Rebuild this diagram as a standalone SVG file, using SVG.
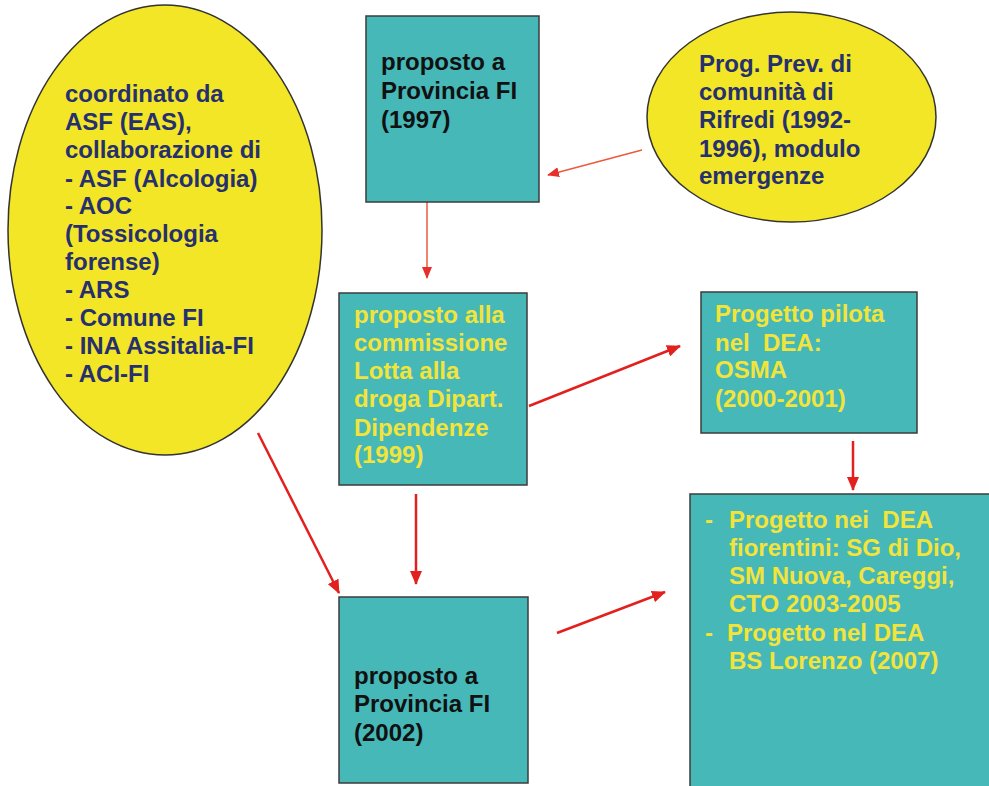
<svg xmlns="http://www.w3.org/2000/svg" width="989" height="786" viewBox="0 0 989 786">
<style>
.box{fill:#46b8b8;stroke:#3c3c3c;stroke-width:1.5}
.ell{fill:#f2e626;stroke:#333;stroke-width:1.5}
.t{font-family:"Liberation Sans",Arial,sans-serif;font-weight:bold;font-size:24px}
.dk{fill:#111}
.nv{fill:#27306f}
.yl{fill:#f2e43a}
.thin{stroke:#ec5a3c;stroke-width:1.5;fill:none}
.thick{stroke:#e2201e;stroke-width:2.5;fill:none}
</style>
<defs>
<marker id="ah1" markerUnits="userSpaceOnUse" markerWidth="12" markerHeight="10" refX="11" refY="5" orient="auto"><path d="M0,0 L12,5 L0,10 z" fill="#e8302a"/></marker>
<marker id="ah2" markerUnits="userSpaceOnUse" markerWidth="14" markerHeight="12" refX="13" refY="6" orient="auto"><path d="M0,0 L14,6 L0,12 z" fill="#e2201e"/></marker>
</defs>
<rect width="989" height="786" fill="#fff"/>
<g id="connectors">
<line class="thin" x1="642" y1="150" x2="548" y2="175" marker-end="url(#ah1)"/>
<line class="thin" x1="427" y1="202" x2="427" y2="278" marker-end="url(#ah1)"/>
<line class="thick" x1="529" y1="406" x2="680" y2="346" marker-end="url(#ah2)"/>
<line class="thick" stroke-width="3" x1="853" y1="441" x2="853" y2="490" marker-end="url(#ah2)"/>
<line class="thick" x1="416" y1="494" x2="416" y2="584" marker-end="url(#ah2)"/>
<line class="thick" x1="258" y1="433" x2="339" y2="593" marker-end="url(#ah2)"/>
<line class="thick" x1="557" y1="633" x2="665" y2="592" marker-end="url(#ah2)"/>
</g>
<g id="n_left">
<ellipse class="ell" cx="165" cy="230" rx="157" ry="225"/>
<text class="t nv">
<tspan x="65" y="102">coordinato da</tspan>
<tspan x="65" y="130">ASF (EAS),</tspan>
<tspan x="65" y="158">collaborazione di</tspan>
<tspan x="65" y="187">- ASF (Alcologia)</tspan>
<tspan x="65" y="214">- AOC</tspan>
<tspan x="65" y="242">(Tossicologia</tspan>
<tspan x="65" y="270">forense)</tspan>
<tspan x="65" y="298">- ARS</tspan>
<tspan x="65" y="326">- Comune FI</tspan>
<tspan x="65" y="354">- INA Assitalia-FI</tspan>
<tspan x="65" y="382">- ACI-FI</tspan>
</text>
</g>
<g id="n_prog">
<ellipse class="ell" cx="791.5" cy="117" rx="144.5" ry="105"/>
<text class="t nv">
<tspan x="699" y="72">Prog. Prev. di</tspan>
<tspan x="699" y="100">comunità di</tspan>
<tspan x="699" y="128">Rifredi (1992-</tspan>
<tspan x="699" y="157">1996), modulo</tspan>
<tspan x="699" y="184">emergenze</tspan>
</text>
</g>
<g id="n_1997">
<rect class="box" x="366" y="16" width="173" height="186"/>
<text class="t dk">
<tspan x="381" y="70">proposto a</tspan>
<tspan x="381" y="99">Provincia FI</tspan>
<tspan x="381" y="128">(1997)</tspan>
</text>
</g>
<g id="n_1999">
<rect class="box" x="339" y="293" width="188" height="192"/>
<text class="t yl">
<tspan x="354" y="323">proposto alla</tspan>
<tspan x="354" y="351">commissione</tspan>
<tspan x="354" y="379">Lotta alla</tspan>
<tspan x="354" y="407">droga Dipart.</tspan>
<tspan x="354" y="436">Dipendenze</tspan>
<tspan x="354" y="463">(1999)</tspan>
</text>
</g>
<g id="n_pilota">
<rect class="box" x="701" y="292" width="216" height="141"/>
<text class="t yl">
<tspan x="715" y="322">Progetto pilota</tspan>
<tspan x="715" y="351" xml:space="preserve">nel  DEA:</tspan>
<tspan x="715" y="378">OSMA</tspan>
<tspan x="715" y="407">(2000-2001)</tspan>
</text>
</g>
<g id="n_2002">
<rect class="box" x="339" y="597" width="189" height="186"/>
<text class="t dk">
<tspan x="354" y="684">proposto a</tspan>
<tspan x="354" y="712">Provincia FI</tspan>
<tspan x="354" y="741">(2002)</tspan>
</text>
</g>
<g id="n_dea">
<rect class="box" x="690" y="494" width="310" height="300"/>
<text class="t yl">
<tspan x="705" y="528">-</tspan><tspan x="729" y="528" xml:space="preserve">Progetto nei  DEA</tspan>
<tspan x="729" y="556">fiorentini: SG di Dio,</tspan>
<tspan x="729" y="584">SM Nuova, Careggi,</tspan>
<tspan x="729" y="612">CTO 2003-2005</tspan>
<tspan x="705" y="641">-</tspan><tspan x="727" y="641">Progetto nel DEA</tspan>
<tspan x="729" y="669">BS Lorenzo (2007)</tspan>
</text>
</g>
</svg>
